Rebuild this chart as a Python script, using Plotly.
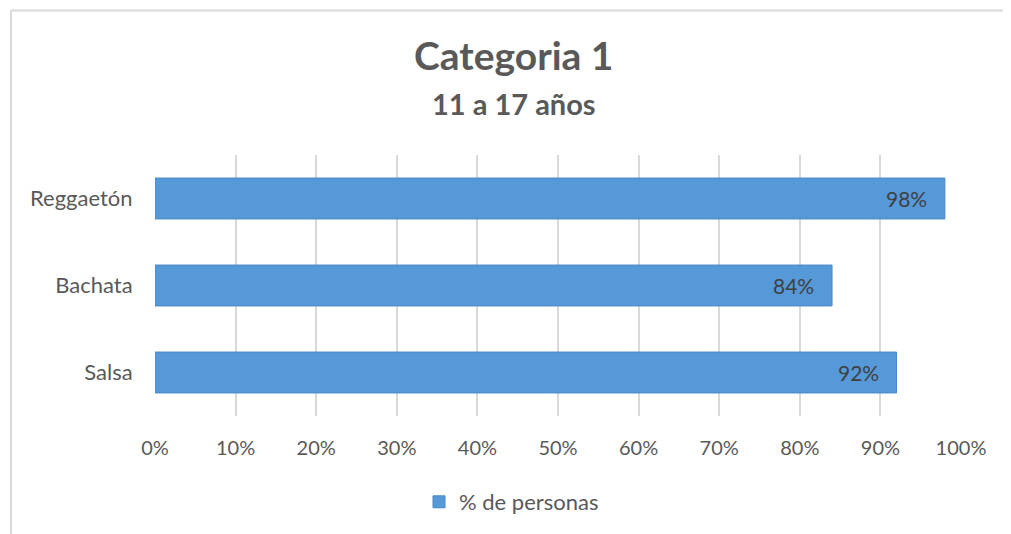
import plotly.graph_objects as go

categories = ["Salsa", "Bachata", "Reggaetón"]
values = [92, 84, 98]
labels = ["92%", "84%", "98%"]
tick_vals = [0, 10, 20, 30, 40, 50, 60, 70, 80, 90, 100]
tick_text = ["0%", "10%", "20%", "30%", "40%", "50%", "60%", "70%", "80%", "90%", "100%"]
series_name = "% de personas"

FONT = "Lato"
GREY = "#595959"
W, H = 1003, 526          # page body has an 8px margin
L, R, T, B = 147, 50, 147, 117
PW = W - L - R
PH = H - T - B

def px_x(p):
    return (p - L) / PW

def px_y(p):
    return (H - B - p) / PH

fig = go.Figure()
fig.add_trace(go.Bar(
    y=categories, x=values, orientation="h", name=series_name,
    marker=dict(color="#5599d9", line=dict(color="#4a88c8", width=1)),
    showlegend=True, hoverinfo="x+y",
))

annotations = [
    dict(text="<b>Categoria 1</b>", xref="paper", yref="paper", x=px_x(506), y=px_y(47),
         xanchor="center", yanchor="middle", showarrow=False,
         font=dict(family=FONT, size=39, color=GREY)),
    dict(text="<b>11 a 17 años</b>", xref="paper", yref="paper", x=px_x(506), y=px_y(95),
         xanchor="center", yanchor="middle", showarrow=False,
         font=dict(family=FONT, size=29, color=GREY)),
]
for c, v, t in zip(categories, values, labels):
    annotations.append(dict(text=t, x=v, y=c, xref="x", yref="y", xanchor="right",
                            yanchor="middle", xshift=-16, showarrow=False,
                            font=dict(family=FONT, size=21, color="#404040")))

fig.update_layout(
    width=W, height=H,
    margin=dict(l=L, r=R, t=T, b=B),
    paper_bgcolor="white", plot_bgcolor="white",
    bargap=0.53,
    font=dict(family=FONT, size=21, color=GREY),
    xaxis=dict(range=[0, 100], tickvals=tick_vals, ticktext=tick_text,
               showgrid=True, gridcolor="#d9d9d9", gridwidth=2,
               zeroline=False, showline=False,
               ticks="outside", ticklen=14, tickcolor="rgba(0,0,0,0)",
               tickfont=dict(family=FONT, size=20, color=GREY), fixedrange=True),
    yaxis=dict(showgrid=False, zeroline=False, showline=False,
               ticks="outside", ticklen=17, tickcolor="rgba(0,0,0,0)",
               tickfont=dict(family=FONT, size=22, color=GREY)),
    legend=dict(orientation="h", x=px_x(411), xanchor="left", y=px_y(473), yanchor="top",
                font=dict(family=FONT, size=22, color=GREY), itemwidth=30),
    annotations=annotations,
    shapes=[
        dict(type="line", xref="paper", yref="paper", x0=px_x(3), x1=px_x(W + 10),
             y0=px_y(2), y1=px_y(2), line=dict(color="#d9d9d9", width=2)),
        dict(type="line", xref="paper", yref="paper", x0=px_x(3), x1=px_x(3),
             y0=px_y(2), y1=px_y(H + 10), line=dict(color="#d9d9d9", width=2)),
    ],
)

fig.write_html("out.html")
